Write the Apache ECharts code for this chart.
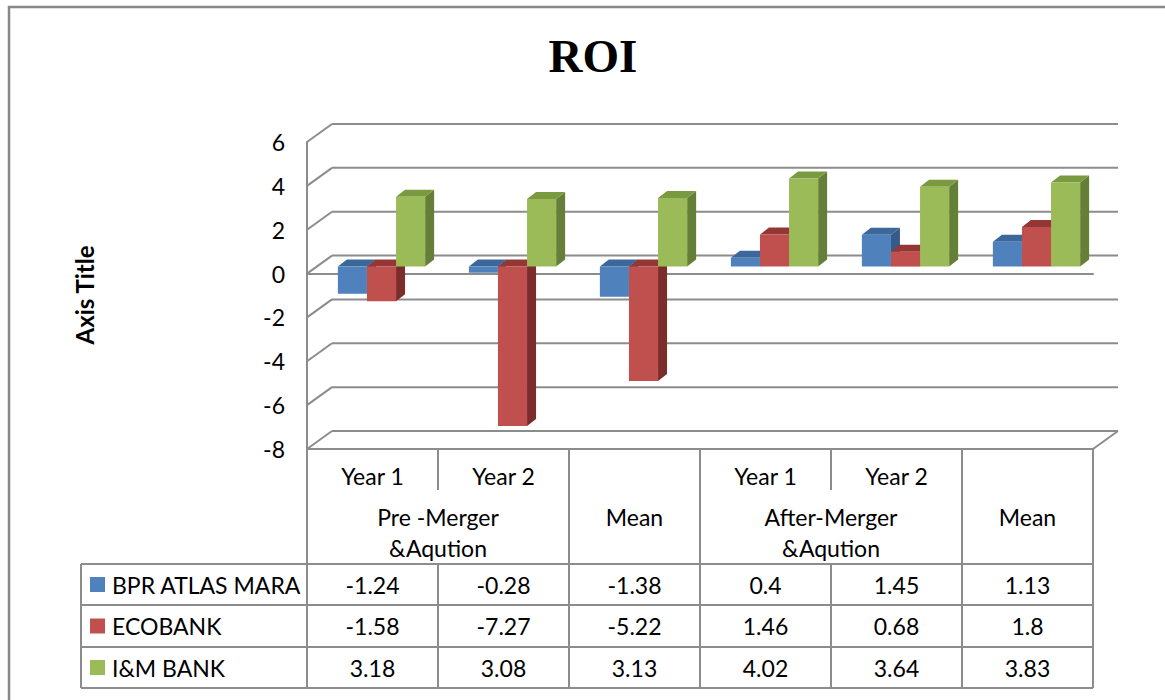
<!DOCTYPE html>
<html>
<head>
<meta charset="utf-8">
<script src="https://cdn.jsdelivr.net/npm/echarts@6/dist/echarts.min.js"></script>
<style>
html,body{margin:0;padding:0;background:#fff;}
#chart{width:1165px;height:700px;}
</style>
</head>
<body>
<div id="chart"></div>
<script>
// ---- data ----
const categories = ['Pre Y1', 'Pre Y2', 'Pre Mean', 'After Y1', 'After Y2', 'After Mean'];
const yearLabels = ['Year 1', 'Year 2', '', 'Year 1', 'Year 2', ''];
const groupLabels = [
  { lines: ['Pre -Merger', '&Aqution'], from: 0, to: 2 },
  { lines: ['Mean'], from: 2, to: 3 },
  { lines: ['After-Merger', '&Aqution'], from: 3, to: 5 },
  { lines: ['Mean'], from: 5, to: 6 }
];
const seriesNames = ['BPR ATLAS MARA', 'ECOBANK', 'I&M BANK'];
const bprValues = [-1.24, -0.28, -1.38, 0.4, 1.45, 1.13];
const ecoValues = [-1.58, -7.27, -5.22, 1.46, 0.68, 1.8];
const imValues = [3.18, 3.08, 3.13, 4.02, 3.64, 3.83];
const tableText = [
  ['-1.24', '-0.28', '-1.38', '0.4', '1.45', '1.13'],
  ['-1.58', '-7.27', '-5.22', '1.46', '0.68', '1.8'],
  ['3.18', '3.08', '3.13', '4.02', '3.64', '3.83']
];
const yTicks = [-8, -6, -4, -2, 0, 2, 4, 6];

// ---- style / layout ----
const FONT = 'Lato, "Open Sans", sans-serif';
const GRID = { left: 307, top: 142, width: 786, height: 307 };
const DEPTH = [25, -18];
const BAR_OFF = [9, -7];
const BAR_DEPTH = [9, -7];
const LINE = '#8c8c8c';
const colors = [
  { front: '#4F81BD', top: '#3C679A', side: '#375B88' },
  { front: '#C0504D', top: '#943634', side: '#7B2D2B' },
  { front: '#9BBB59', top: '#7A9A40', side: '#667F38' }
];
const allValues = [bprValues, ecoValues, imValues];

const chart = echarts.init(document.getElementById('chart'), null, { renderer: 'svg' });

function wallRender(params, api) {
  const v = api.value(1);
  const y = api.coord([0, v])[1];
  const cs = params.coordSys;
  const x0 = cs.x, x1 = cs.x + cs.width;
  const st = { stroke: LINE, lineWidth: 2 };
  const children = [
    { type: 'line', shape: { x1: x0, y1: y, x2: x0 + DEPTH[0], y2: y + DEPTH[1] }, style: st },
    { type: 'line', shape: { x1: x0 + DEPTH[0], y1: y + DEPTH[1], x2: x1 + DEPTH[0], y2: y + DEPTH[1] }, style: st }
  ];
  if (v === yTicks[0]) {
    children.push({ type: 'line', shape: { x1: x1, y1: y, x2: x1 + DEPTH[0], y2: y + DEPTH[1] }, style: st });
    children.push({ type: 'line', shape: { x1: x0, y1: y, x2: x1, y2: y }, style: st });
  }
  return { type: 'group', children };
}

function makeBarRender(idx) {
  return function (params, api) {
    const cat = api.value(0), v = api.value(1);
    const band = api.size([1, 0])[0];
    const barW = band * 0.222;
    const p0 = api.coord([cat, 0]);
    const p1 = api.coord([cat, v]);
    const xl = p0[0] - 1.5 * barW + idx * barW + BAR_OFF[0];
    const xr = xl + barW;
    const yt = Math.min(p0[1], p1[1]) + BAR_OFF[1];
    const yb = Math.max(p0[1], p1[1]) + BAR_OFF[1];
    const c = colors[idx];
    const dx = BAR_DEPTH[0], dy = BAR_DEPTH[1];
    return {
      type: 'group',
      children: [
        { type: 'polygon', shape: { points: [[xr, yt], [xr + dx, yt + dy], [xr + dx, yb + dy], [xr, yb]] }, style: { fill: c.side } },
        { type: 'polygon', shape: { points: [[xl, yt], [xr, yt], [xr + dx, yt + dy], [xl + dx, yt + dy]] }, style: { fill: c.top } },
        { type: 'rect', shape: { x: xl, y: yt, width: barW, height: yb - yt }, style: { fill: c.front } }
      ]
    };
  };
}

// ---- table graphics ----
const graphics = [];
const cw = GRID.width / categories.length;
const colX = i => GRID.left + i * cw;
const tTop = GRID.top + GRID.height;   // 449
const hdr1 = 490, hdr2 = 564;
const rowH = [564, 605, 647, 688];
const legendLeft = 81;
const lst = { stroke: LINE, lineWidth: 2 };
function hline(x1, x2, y) { graphics.push({ type: 'line', shape: { x1, y1: y, x2, y2: y }, style: lst, z: 5 }); }
function vline(x, y1, y2) { graphics.push({ type: 'line', shape: { x1: x, y1, x2: x, y2 }, style: lst, z: 5 }); }

// outer border
graphics.push({ type: 'rect', shape: { x: 9, y: 7, width: 1170, height: 710 }, style: { fill: 'none', stroke: '#888', lineWidth: 2.5 }, z: 5 });

vline(colX(0), tTop, rowH[3]);
vline(colX(6), tTop, rowH[3]);
groupLabels.forEach(g => { if (g.from > 0) vline(colX(g.from), tTop, rowH[3]); });
for (let i = 1; i < 6; i++) {
  const isGroupEdge = groupLabels.some(g => g.from === i);
  if (!isGroupEdge) { vline(colX(i), tTop, hdr1); vline(colX(i), hdr2, rowH[3]); }
}
rowH.forEach(y => hline(legendLeft, colX(6), y));
vline(legendLeft, rowH[0], rowH[3]);

const tFont = { fontFamily: FONT, fontSize: 23, fill: '#000', align: 'center', verticalAlign: 'middle' };
yearLabels.forEach((t, i) => {
  if (t) graphics.push({ type: 'text', x: colX(i) + cw / 2, y: 476, style: Object.assign({ text: t }, tFont), z: 6 });
});
groupLabels.forEach(g => {
  g.lines.forEach((t, k) => {
    graphics.push({ type: 'text', x: (colX(g.from) + colX(g.to)) / 2, y: 517 + k * 31, style: Object.assign({ text: t }, tFont), z: 6 });
  });
});
seriesNames.forEach((name, r) => {
  const cy = (rowH[r] + rowH[r + 1]) / 2;
  graphics.push({ type: 'rect', shape: { x: 90, y: cy - 7.5, width: 15, height: 15 }, style: { fill: colors[r].front }, z: 6 });
  graphics.push({ type: 'text', x: 112, y: cy, style: Object.assign({ text: name }, tFont, { align: 'left' }), z: 6 });
  tableText[r].forEach((t, i) => {
    graphics.push({ type: 'text', x: colX(i) + cw / 2, y: cy, style: Object.assign({ text: t }, tFont), z: 6 });
  });
});
// title and axis title
graphics.push({ type: 'text', x: 593, y: 56, style: { text: 'ROI', fontFamily: '"Liberation Serif", "Times New Roman", serif', fontWeight: 'bold', fontSize: 47, fill: '#000', align: 'center', verticalAlign: 'middle' }, z: 6 });
graphics.push({ type: 'text', x: 84, y: 295, rotation: Math.PI / 2, style: { text: 'Axis Title', fontFamily: FONT, fontWeight: 'bold', fontSize: 24, fill: '#000', align: 'center', verticalAlign: 'middle' }, z: 6 });

const option = {
  animation: false,
  backgroundColor: '#fff',
  grid: { left: GRID.left, top: GRID.top, width: GRID.width, height: GRID.height, containLabel: false },
  xAxis: {
    type: 'category', data: categories,
    axisLine: { show: true, onZero: true, lineStyle: { color: LINE, width: 2 } },
    axisTick: { show: false }, axisLabel: { show: false }, splitLine: { show: false }
  },
  yAxis: {
    type: 'value', min: -8, max: 6, interval: 2,
    axisLine: { show: true, lineStyle: { color: LINE, width: 2 } },
    axisTick: { show: false },
    splitLine: { show: false },
    axisLabel: { color: '#000', fontSize: 23, fontFamily: FONT, margin: 22 }
  },
  graphic: graphics,
  series: [
    {
      type: 'custom', name: 'walls', z: 1, clip: false, silent: true,
      renderItem: wallRender,
      data: yTicks.map(v => [0, v])
    }
  ].concat(allValues.map((vals, idx) => ({
    type: 'custom', name: seriesNames[idx], z: 3, clip: false,
    renderItem: makeBarRender(idx),
    data: vals.map((v, i) => [i, v])
  })))
};
chart.setOption(option);
</script>
</body>
</html>
